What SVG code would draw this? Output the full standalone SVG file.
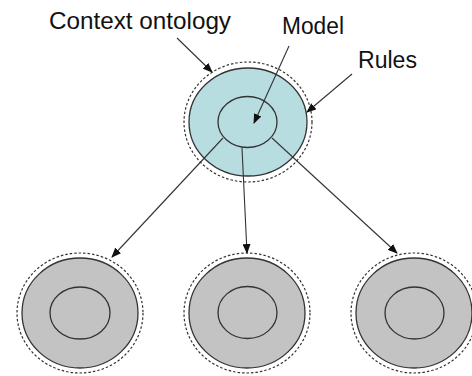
<svg xmlns="http://www.w3.org/2000/svg" width="472" height="376" viewBox="0 0 472 376">
<style>
.lbl{font-family:"Liberation Sans",Arial,sans-serif;fill:#111}
.dash{fill:none;stroke:#333;stroke-width:1.2;stroke-dasharray:2.5 2}
.outer{stroke:#333;stroke-width:1.3}
.inner{fill:none;stroke:#333;stroke-width:1.3}
.top{fill:#b7dde1}
.bot{fill:#c3c3c3}
.conn line{stroke:#333;stroke-width:1.1;marker-end:url(#ah)}
</style>
<defs>
<marker id="ah" markerWidth="10" markerHeight="8" refX="9" refY="4" orient="auto" markerUnits="userSpaceOnUse">
<path d="M0,0 L10,4 L0,8 Z" fill="#111"/>
</marker>
</defs>
<rect width="472" height="376" fill="#fff"/>
<g id="top-node">
<ellipse class="dash" cx="248" cy="122" rx="64" ry="60"/>
<ellipse class="outer top" cx="248" cy="122" rx="59" ry="54"/>
<ellipse class="inner" cx="247.5" cy="122" rx="29.5" ry="25.5"/>
</g>
<g id="bottom-left">
<ellipse class="dash" cx="80" cy="313" rx="63" ry="60"/>
<ellipse class="outer bot" cx="80" cy="313" rx="58" ry="55"/>
<ellipse class="inner" cx="80" cy="313" rx="30" ry="26"/>
</g>
<g id="bottom-middle">
<ellipse class="dash" cx="247" cy="313" rx="63" ry="60"/>
<ellipse class="outer bot" cx="247" cy="313" rx="58" ry="55"/>
<ellipse class="inner" cx="247.5" cy="312.5" rx="29.5" ry="26"/>
</g>
<g id="bottom-right">
<ellipse class="dash" cx="414" cy="313" rx="63" ry="60"/>
<ellipse class="outer bot" cx="414" cy="313" rx="58" ry="55"/>
<ellipse class="inner" cx="414.5" cy="313" rx="29.5" ry="26"/>
</g>
<g id="labels">
<text class="lbl" x="49" y="29" font-size="24" textLength="182" lengthAdjust="spacingAndGlyphs">Context ontology</text>
<text class="lbl" x="282" y="34" font-size="23" textLength="62" lengthAdjust="spacingAndGlyphs">Model</text>
<text class="lbl" x="358" y="68" font-size="23" textLength="59" lengthAdjust="spacingAndGlyphs">Rules</text>
</g>
<g class="conn" id="connectors">
<line x1="177" y1="38" x2="212" y2="72"/>
<line x1="289" y1="46" x2="254" y2="123"/>
<line x1="352" y1="74" x2="307" y2="112"/>
<line x1="223" y1="138" x2="112" y2="257"/>
<line x1="242" y1="148" x2="247" y2="253"/>
<line x1="272" y1="138" x2="397" y2="253"/>
</g>
</svg>
